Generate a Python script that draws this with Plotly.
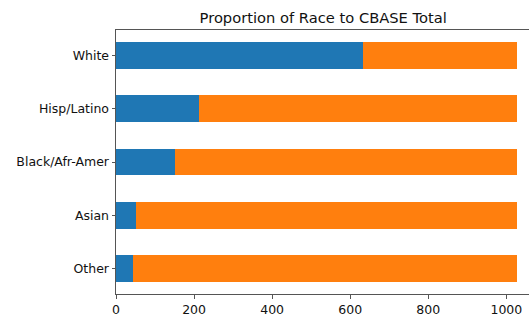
import plotly.graph_objects as go

categories = ["White", "Hisp/Latino", "Black/Afr-Amer", "Asian", "Other"]
race_counts = [633, 212, 151, 50, 44]
rest_counts = [393, 814, 875, 976, 982]
x_ticks = [0, 200, 400, 600, 800, 1000]

fig = go.Figure()
fig.add_trace(go.Bar(y=categories, x=race_counts, orientation="h",
                     marker=dict(color="#1f77b4", line=dict(width=0)), width=0.5))
fig.add_trace(go.Bar(y=categories, x=rest_counts, orientation="h",
                     marker=dict(color="#ff7f0e", line=dict(width=0)), width=0.5))

fig.update_layout(
    barmode="stack",
    width=529, height=316,
    margin=dict(l=116, r=0, t=30, b=22, autoexpand=False),
    paper_bgcolor="white", plot_bgcolor="white",
    showlegend=False,
    bargap=0,
    font=dict(family="DejaVu Sans", size=12.5, color="#111"),
    title=dict(text="Proportion of Race to CBASE Total", x=0.611, xanchor="center",
               y=0.945, yanchor="middle", font=dict(size=14.7, color="#111")),
    xaxis=dict(range=[0, 1058], tickvals=x_ticks, ticktext=[str(v) for v in x_ticks],
               automargin=False,
               showgrid=False, zeroline=False, showline=True, linecolor="#555",
               linewidth=1, mirror=True, ticks="outside", ticklen=3.5, tickcolor="#555"),
    yaxis=dict(autorange=False, range=[4.475, -0.475], showgrid=False, zeroline=False,
               automargin=False,
               showline=True, linecolor="#555", linewidth=1, ticks="outside",
               ticklen=3.5, tickcolor="#555"),
)

fig.write_html("out.html", config={"displayModeBar": False},
               post_script="document.body.style.margin='0';document.body.style.overflow='hidden';")
